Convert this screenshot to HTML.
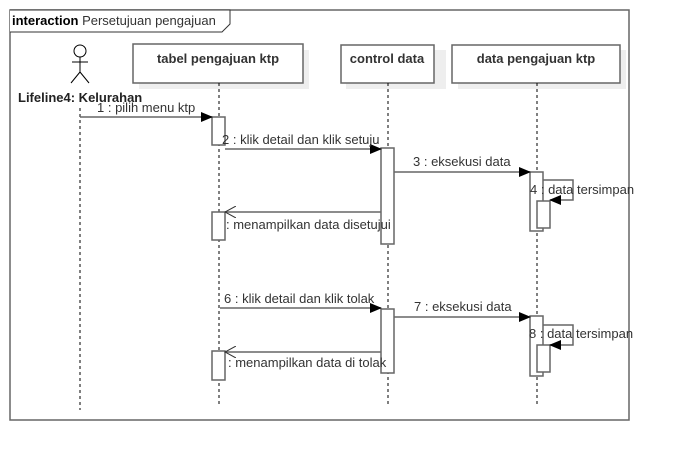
<!DOCTYPE html><html><head><style>body{margin:0;background:#fff}text{font-family:"Liberation Sans",sans-serif;font-size:13px;fill:#333}</style></head><body>
<svg width="673" height="461" xmlns="http://www.w3.org/2000/svg">
<defs><marker id="a" markerWidth="12" markerHeight="10" refX="11" refY="5" orient="auto" markerUnits="userSpaceOnUse"><path d="M0,0 L12,5 L0,10z" fill="#000"/></marker>
<marker id="o" markerWidth="12" markerHeight="12" refX="11" refY="6" orient="auto" markerUnits="userSpaceOnUse"><path d="M0,0 L11,6 L0,12" fill="none" stroke="#333"/></marker></defs>
<rect x="10" y="10" width="619" height="410" fill="none" stroke="#666" stroke-width="1.5"/>
<path d="M10,10 H230 V24 L222,32 H10" fill="#fff" stroke="#333"/>
<text x="12" y="25"><tspan font-weight="bold" fill="#000">interaction</tspan> Persetujuan pengajuan</text>
<g fill="#eee"><rect x="139" y="50" width="170" height="39"/><rect x="346" y="50" width="100" height="39"/><rect x="458" y="50" width="168" height="39"/></g>
<g fill="#fff" stroke="#666" stroke-width="1.5"><rect x="133" y="44" width="170" height="39"/><rect x="341" y="45" width="93" height="38"/><rect x="452" y="45" width="168" height="38"/></g>
<g text-anchor="middle"><text x="218" y="63" style="font-weight:bold">tabel pengajuan ktp</text><text x="387" y="63" style="font-weight:bold">control data</text><text x="536" y="63" style="font-weight:bold">data pengajuan ktp</text></g>
<g stroke="#000" fill="none"><circle cx="80" cy="51" r="6"/><path d="M80,57 V72 M72,62 H88 M80,72 L71,83 M80,72 L89,83"/></g>
<text x="18" y="102" style="font-weight:bold;fill:#222">Lifeline4: Kelurahan</text>
<g stroke="#000" stroke-dasharray="3,3"><path d="M80,108 V410 M219,83 V405 M388,83 V405 M537,83 V405"/></g>
<g fill="#fff" stroke="#666" stroke-width="1.5">
<rect x="212" y="117" width="13" height="28"/><rect x="212" y="212" width="13" height="28"/><rect x="381" y="148" width="13" height="96"/>
<rect x="530" y="172" width="13" height="59"/><rect x="537" y="201" width="13" height="27"/>
<rect x="212" y="351" width="13" height="29"/><rect x="381" y="309" width="13" height="64"/>
<rect x="530" y="316" width="13" height="60"/><rect x="537" y="345" width="13" height="27"/></g>
<g stroke="#666" stroke-width="1.5" fill="none">
<path d="M80,117 H212" marker-end="url(#a)"/><path d="M225,149 H381" marker-end="url(#a)"/><path d="M394,172 H530" marker-end="url(#a)"/>
<path d="M543,180 H573 V200 H550" marker-end="url(#a)"/><path d="M381,212 H225" marker-end="url(#o)"/>
<path d="M220,308 H381" marker-end="url(#a)"/><path d="M394,317 H530" marker-end="url(#a)"/>
<path d="M543,325 H573 V345 H550" marker-end="url(#a)"/><path d="M381,352 H225" marker-end="url(#o)"/></g>
<text x="97" y="112">1 : pilih menu ktp</text><text x="222" y="144">2 : klik detail dan klik setuju</text>
<text x="413" y="166">3 : eksekusi data</text><text x="530" y="194">4 : data tersimpan</text>
<text x="226" y="229">: menampilkan data disetujui</text>
<text x="224" y="303">6 : klik detail dan klik tolak</text><text x="414" y="311">7 : eksekusi data</text>
<text x="529" y="338">8 : data tersimpan</text><text x="228" y="367">: menampilkan data di tolak</text>
</svg></body></html>
